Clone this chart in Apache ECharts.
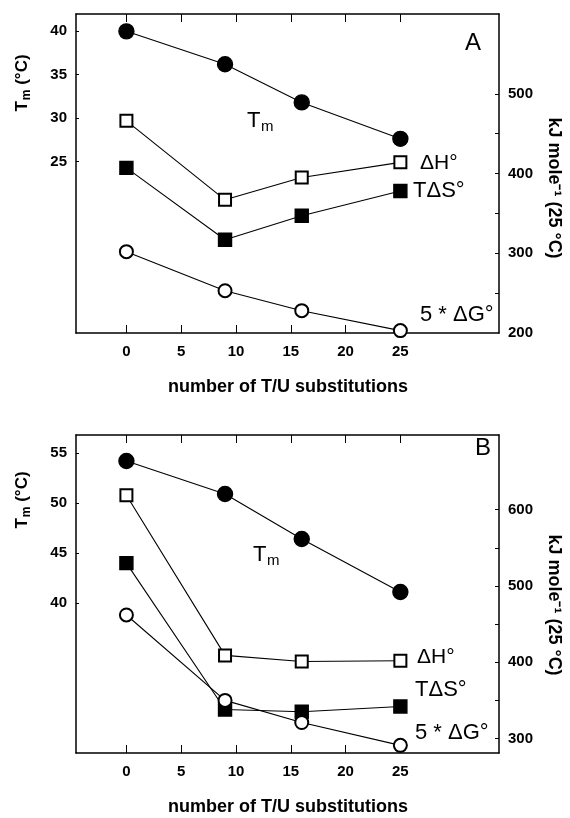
<!DOCTYPE html>
<html>
<head>
  <meta charset="utf-8">
  <title>Tm / thermodynamics vs T/U substitutions</title>
  <script src="https://cdn.jsdelivr.net/npm/echarts@6/dist/echarts.min.js"></script>
</head>
<style>
  html, body { margin: 0; padding: 0; background: #fff; }
  #chart { width: 570px; height: 818px; }
</style>
<body>
  <div id="chart"></div>
  <script>
    // data
    const subs = [0, 9, 16, 25];
    const xTicks = [0, 5, 10, 15, 20, 25];

    // panel A
    const tmA = [40.0, 36.2, 31.8, 27.6];
    const dHA = [466, 367, 395, 414];
    const tdSA = [407, 317, 347, 378];
    const dGA = [302, 253, 228, 203];
    const leftLabA = [25, 30, 35, 40];
    const rightLabA = [200, 300, 400, 500];
    const rightTickA = [250, 300, 350, 400, 450, 500];

    // panel B
    const tmB = [54.2, 50.9, 46.4, 41.1];
    const dHB = [619, 409, 401, 402];
    const tdSB = [530, 338, 335, 342];
    const dGB = [462, 350, 321, 291];
    const leftLabB = [40, 45, 50, 55];
    const rightLabB = [300, 400, 500, 600];
    const rightTickB = [300, 350, 400, 450, 500, 550, 600];

    const FONT = '"Liberation Sans", Arial, sans-serif';
    const pts = ys => subs.map((x, i) => [x, ys[i]]);

    function xAxisFor(gi, pos) {
      return {
        type: 'value', gridIndex: gi, position: pos, min: -4.6, max: 34,
        axisLine: { show: true, onZero: false, lineStyle: { color: '#000', width: 1.5 } },
        axisTick: { show: true, inside: true, length: 8, customValues: xTicks, lineStyle: { color: '#000', width: 1 } },
        axisLabel: pos === 'bottom'
          ? { show: true, customValues: xTicks, margin: 11, color: '#000', fontSize: 15, fontWeight: 'bold', fontFamily: FONT }
          : { show: false },
        splitLine: { show: false }
      };
    }

    function yAxisFor(gi, pos, min, max, labs, ticks, tickLen) {
      return {
        type: 'value', gridIndex: gi, position: pos, min: min, max: max,
        axisLine: { show: true, onZero: false, lineStyle: { color: '#000', width: 1.5 } },
        axisTick: { show: true, inside: true, length: tickLen, customValues: ticks, lineStyle: { color: '#000', width: 1 } },
        axisLabel: { show: true, customValues: labs, margin: 9, color: '#000', fontSize: 15, fontWeight: 'bold', fontFamily: FONT },
        splitLine: { show: false }
      };
    }

    function line(name, data, xi, yi, symbol, size) {
      return {
        name: name, type: 'line', xAxisIndex: xi, yAxisIndex: yi, data: pts(data),
        symbol: symbol, symbolSize: size, showSymbol: true,
        lineStyle: { color: '#000', width: 1.1 },
        itemStyle: { color: '#000', borderColor: '#000', borderWidth: 1.4 },
        emphasis: { disabled: true }, animation: false, z: 3
      };
    }

    function txt(x, y, text, size) {
      return {
        type: 'text', x: x, y: y,
        style: { text: text, fontSize: size, fontFamily: FONT, fill: '#000', align: 'left', verticalAlign: 'middle' }
      };
    }

    function panelText(p) {
      const tmRich = {
        a: { fontSize: 17, fontWeight: 'bold', fontFamily: FONT, lineHeight: 22, verticalAlign: 'middle' },
        b: { fontSize: 12, fontWeight: 'bold', fontFamily: FONT, lineHeight: 22, verticalAlign: 'bottom', padding: [0, 0, 0, 1] }
      };
      return [
        { type: 'text', x: 22, y: p.leftTitleY, rotation: Math.PI / 2,
          style: { text: '{a|T}{b|m}{a| (°C)}', rich: tmRich, fill: '#000', align: 'center', verticalAlign: 'middle' } },
        { type: 'text', x: 554, y: p.rightTitleY, rotation: -Math.PI / 2,
          style: { text: 'kJ mole⁻¹ (25 °C)', fontSize: 18, fontWeight: 'bold', fontFamily: FONT, fill: '#000', align: 'center', verticalAlign: 'middle' } },
        { type: 'text', x: 288, y: p.xTitleY,
          style: { text: 'number of T/U substitutions', fontSize: 18, fontWeight: 'bold', fontFamily: FONT, fill: '#000', align: 'center', verticalAlign: 'middle' } },
        { type: 'text', x: p.letter[0], y: p.letter[1],
          style: { text: p.letterText, fontSize: 24, fontFamily: FONT, fill: '#000', align: 'center', verticalAlign: 'middle' } },
        txt(p.tm[0], p.tm[1], 'T', 22),
        txt(p.tm[0] + 14, p.tm[1] + 6, 'm', 15),
        txt(p.dH[0], p.dH[1], 'ΔH°', 21),
        txt(p.tdS[0], p.tdS[1], 'TΔS°', 22),
        txt(p.dG[0], p.dG[1], '5 * ΔG°', 22)
      ];
    }

    const chart = echarts.init(document.getElementById('chart'));
    chart.setOption({
      animation: false,
      backgroundColor: '#fff',
      grid: [
        { left: 76, top: 14, width: 423, height: 319 },
        { left: 76, top: 435, width: 423, height: 318 }
      ],
      xAxis: [
        xAxisFor(0, 'bottom'), xAxisFor(0, 'top'),
        xAxisFor(1, 'bottom'), xAxisFor(1, 'top')
      ],
      yAxis: [
        yAxisFor(0, 'left', 5.2, 42, leftLabA, leftLabA, 3),
        yAxisFor(0, 'right', 200, 600, rightLabA, rightTickA, 4),
        yAxisFor(1, 'left', 25, 56.8, leftLabB, leftLabB, 3),
        yAxisFor(1, 'right', 281, 698, rightLabB, rightTickB, 4)
      ],
      series: [
        line('Tm A', tmA, 0, 0, 'circle', 15),
        line('dH A', dHA, 0, 1, 'emptyRect', 12),
        line('TdS A', tdSA, 0, 1, 'rect', 13),
        line('dG A', dGA, 0, 1, 'emptyCircle', 13),
        line('Tm B', tmB, 2, 2, 'circle', 15),
        line('dH B', dHB, 2, 3, 'emptyRect', 12),
        line('TdS B', tdSB, 2, 3, 'rect', 13),
        line('dG B', dGB, 2, 3, 'emptyCircle', 13)
      ],
      graphic: panelText({
        leftTitleY: 83, rightTitleY: 188, xTitleY: 387,
        letter: [473, 43], letterText: 'A',
        tm: [247, 121], dH: [420, 163], tdS: [413, 191], dG: [420, 315]
      }).concat(panelText({
        leftTitleY: 500, rightTitleY: 605, xTitleY: 807,
        letter: [483, 448], letterText: 'B',
        tm: [253, 555], dH: [417, 657], tdS: [415, 690], dG: [415, 733]
      }))
    });
  </script>
</body>
</html>
